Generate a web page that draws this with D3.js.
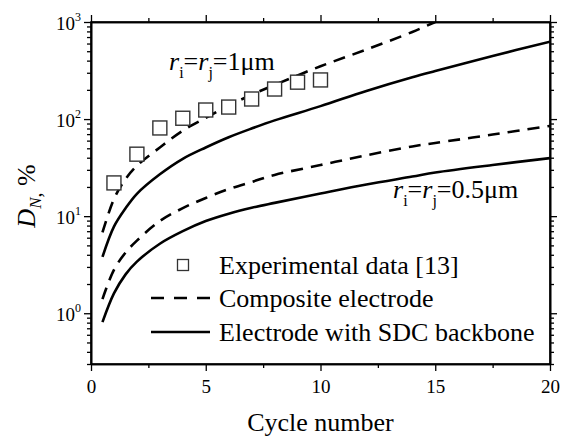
<!DOCTYPE html>
<html><head><meta charset="utf-8">
<script src="https://cdn.jsdelivr.net/npm/d3@7"></script>
<style>
html,body{margin:0;padding:0;background:#fff;}
svg text{font-family:"Liberation Serif","Tinos","Times New Roman","Nimbus Roman","DejaVu Serif",serif !important;}
</style></head>
<body>
<svg id="chart" width="566" height="437"></svg>
<script>
// ---- data ----
const cycles = [0.5,1,1.5,2,3,4,5,6,7,8,10,12,14,15,17.5,20];
const composite1um  = [6.8,15,24,33,51,76,103,138,178,225,350,520,790,1000];           // up to cycle 15
const sdc1um        = [3.8,7.8,12,17,27,39,51,65,80,97,136,195,270,313,447,627];
const composite05um = [1.4,2.8,4.2,5.6,8.9,12.1,15.4,19,22.5,26.6,33.6,42.4,52.3,56.7,69.3,85];
const sdc05um       = [0.81,1.6,2.5,3.4,5.2,7,8.9,10.6,12.2,13.7,17.1,21.2,25.6,28.2,33.7,39.6];
const expCycles = [1,2,3,4,5,6,7,8,9,10];
const expValues = [22,43.5,81,102,124,133,161,204,240,253];
const xTicks = [0,5,10,15,20];
const xMinorTicks = [2.5,7.5,12.5,17.5];
const yTicks = [1,10,100,1000];
const yExponents = ["0","1","2","3"];
const legendLabels = ["Experimental data [13]","Composite electrode","Electrode with SDC backbone"];

// ---- layout ----
const L = 91, R = 550, T = 22, B = 364;
const FONT = "'Liberation Serif', Tinos, 'Times New Roman', 'DejaVu Serif', serif";
const svg = d3.select("#chart").attr("font-family", FONT);
const x = d3.scaleLinear().domain([0,20]).range([L,R]);
const y = d3.scaleLog().domain([0.3,1000]).range([B,T]);

svg.append("defs").append("clipPath").attr("id","clip")
  .append("rect").attr("x",L).attr("y",T).attr("width",R-L).attr("height",B-T);

// minor log ticks
const yMinor = [];
[0.1,1,10,100].forEach(d => { for (let k=2;k<=9;k++){ const v=d*k; if (v>=0.3 && v<1000 && v!==1 && v!==10 && v!==100) yMinor.push(v);} });

const axisW = 1.6;
function addAxis(axisGen, transform){
  const g = svg.append("g").attr("transform",transform).call(axisGen).attr("font-family", FONT);
  g.select(".domain").attr("stroke","#000").attr("stroke-width",axisW);
  g.selectAll(".tick line").attr("stroke","#000").attr("stroke-width",1.3);
  return g;
}
// bottom
const gb = addAxis(d3.axisBottom(x).tickValues(xTicks).tickSize(7).tickSizeOuter(0).tickPadding(9), `translate(0,${B})`);
gb.selectAll(".tick text").attr("font-size",19).attr("fill","#000");
addAxis(d3.axisBottom(x).tickValues(xMinorTicks).tickSize(4).tickSizeOuter(0).tickFormat(""), `translate(0,${B})`);
// top
addAxis(d3.axisTop(x).tickValues(xTicks).tickSize(7).tickSizeOuter(0).tickFormat(""), `translate(0,${T})`);
addAxis(d3.axisTop(x).tickValues(xMinorTicks).tickSize(4).tickSizeOuter(0).tickFormat(""), `translate(0,${T})`);
// left
addAxis(d3.axisLeft(y).tickValues(yTicks).tickSize(7).tickSizeOuter(0).tickFormat(""), `translate(${L},0)`);
addAxis(d3.axisLeft(y).tickValues(yMinor).tickSize(4).tickSizeOuter(0).tickFormat(""), `translate(${L},0)`);
// right
addAxis(d3.axisRight(y).tickValues(yTicks).tickSize(7).tickSizeOuter(0).tickFormat(""), `translate(${R},0)`);
addAxis(d3.axisRight(y).tickValues(yMinor).tickSize(4).tickSizeOuter(0).tickFormat(""), `translate(${R},0)`);

// y tick labels 10^n
yTicks.forEach((v,i) => {
  const t = svg.append("text").attr("x",81).attr("y",y(v)+8).attr("text-anchor","end")
    .attr("font-size",19).attr("fill","#000");
  t.append("tspan").text("10");
  t.append("tspan").attr("dy",-9).attr("font-size",12).text(yExponents[i]);
});

svg.append("rect").attr("x",L).attr("y",T).attr("width",R-L).attr("height",B-T)
  .attr("fill","none").attr("stroke","#000").attr("stroke-width",axisW);

// ---- curves ----
const line = d3.line().x(d=>x(d[0])).y(d=>y(d[1])).curve(d3.curveCatmullRom.alpha(0.5));
const plot = svg.append("g").attr("clip-path","url(#clip)");
const series = [
  {vals: composite1um, dash: "12,8"},
  {vals: sdc1um, dash: null},
  {vals: composite05um, dash: "12,8"},
  {vals: sdc05um, dash: null}
];
series.forEach(s => {
  const pts = s.vals.map((v,i)=>[cycles[i],v]);
  plot.append("path").attr("d",line(pts)).attr("fill","none")
    .attr("stroke","#000").attr("stroke-width",2.6)
    .attr("stroke-dasharray",s.dash);
});

// experimental squares
const sq = 14;
svg.append("g").selectAll("rect").data(expCycles).join("rect")
  .attr("x",(d)=>x(d)-sq/2).attr("y",(d,i)=>y(expValues[i])-sq/2)
  .attr("width",sq).attr("height",sq)
  .attr("fill","#fff").attr("stroke","#333").attr("stroke-width",1.4);

// ---- annotations ----
function rLabel(xp, yp, tail){
  const t = svg.append("text").attr("x",xp).attr("y",yp).attr("font-size",26).attr("fill","#000");
  t.append("tspan").attr("font-style","italic").text("r");
  t.append("tspan").attr("font-size",16).attr("dy",8).text("i");
  t.append("tspan").attr("dy",-8).text("=");
  t.append("tspan").attr("font-style","italic").text("r");
  t.append("tspan").attr("font-size",16).attr("dy",8).text("j");
  t.append("tspan").attr("dy",-8).text(tail);
}
rLabel(169, 70, "=1\u03bcm");
rLabel(393, 198, "=0.5\u03bcm");

// ---- legend ----
const legY = [265, 298, 332];
svg.append("rect").attr("x",183-5.5).attr("y",legY[0]-5.5).attr("width",11).attr("height",11)
  .attr("fill","#fff").attr("stroke","#333").attr("stroke-width",1.3);
svg.append("line").attr("x1",151).attr("x2",210).attr("y1",legY[1]).attr("y2",legY[1])
  .attr("stroke","#000").attr("stroke-width",2.6).attr("stroke-dasharray","13,10");
svg.append("line").attr("x1",151).attr("x2",210).attr("y1",legY[2]).attr("y2",legY[2])
  .attr("stroke","#000").attr("stroke-width",2.6);
legendLabels.forEach((lab,i)=>{
  svg.append("text").attr("x",219).attr("y",legY[i]+9).attr("font-size",26).attr("fill","#000").text(lab);
});

// ---- axis titles ----
svg.append("text").attr("x",(L+R)/2).attr("y",431).attr("text-anchor","middle")
  .attr("font-size",26).attr("fill","#000").text("Cycle number");
const yt = svg.append("text").attr("transform",`translate(35,196) rotate(-90)`)
  .attr("text-anchor","middle").attr("font-size",26).attr("fill","#000");
yt.append("tspan").attr("font-style","italic").text("D");
yt.append("tspan").attr("font-style","italic").attr("font-size",17).attr("dy",6).text("N");
yt.append("tspan").attr("font-size",20).text(",");
yt.append("tspan").attr("dy",-6).text(" %");
</script>
</body></html>
